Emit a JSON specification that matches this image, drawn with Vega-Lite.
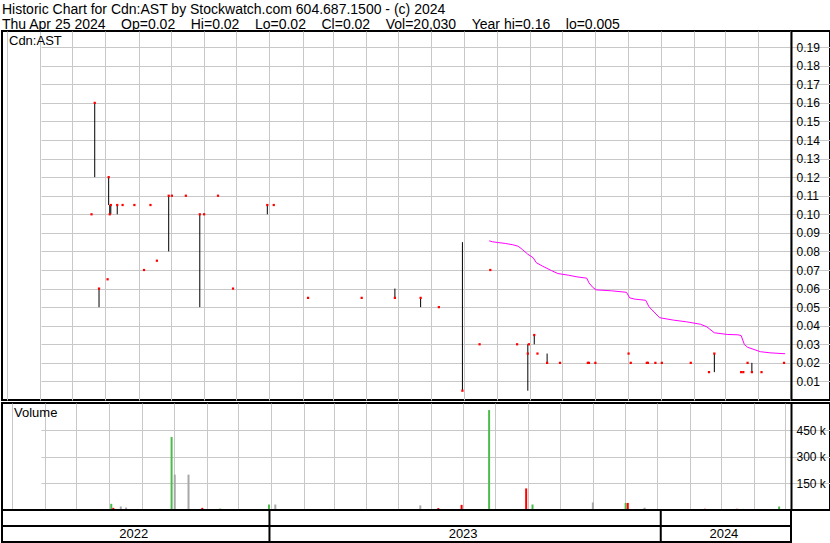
{
  "$schema": "https://vega.github.io/schema/vega-lite/v6.json",
  "background": "white",
  "padding": {"left": 0, "top": 3, "right": 0, "bottom": 0},
  "bounds": "flush",
  "title": {
    "text": [
      "Historic Chart for Cdn:AST by Stockwatch.com 604.687.1500 - (c) 2024",
      "Thu Apr 25 2024\u00a0\u00a0\u00a0\u00a0Op=0.02\u00a0\u00a0\u00a0\u00a0Hi=0.02\u00a0\u00a0\u00a0\u00a0Lo=0.02\u00a0\u00a0\u00a0\u00a0Cl=0.02\u00a0\u00a0\u00a0\u00a0Vol=20,030\u00a0\u00a0\u00a0\u00a0Year hi=0.16\u00a0\u00a0\u00a0\u00a0lo=0.005"
    ],
    "anchor": "start",
    "font": "Liberation Sans",
    "fontSize": 14,
    "fontWeight": "normal",
    "color": "black",
    "lineHeight": 15,
    "offset": -2,
    "dx": 2
  },
  "config": {
    "font": "Liberation Sans",
    "view": {"stroke": "black", "strokeWidth": 2},
    "axis": {"gridColor": "#c8c8c8", "gridWidth": 1, "gridOpacity": 1}
  },
  "datasets": {
    "px": [
      {"d": "2022-07-19", "h": 0.10, "l": 0.10, "c": 0.10, "v": 5000, "dir": "up"},
      {"d": "2022-07-22", "h": 0.16, "l": 0.12, "c": 0.16, "v": 5000, "dir": "up"},
      {"d": "2022-07-26", "h": 0.06, "l": 0.05, "c": 0.06, "v": 5000, "dir": "down"},
      {"d": "2022-08-03", "h": 0.065, "l": 0.065, "c": 0.065, "v": 35000, "dir": "up"},
      {"d": "2022-08-04", "h": 0.12, "l": 0.105, "c": 0.12, "v": 8000, "dir": "up"},
      {"d": "2022-08-05", "h": 0.105, "l": 0.10, "c": 0.10, "v": 12000, "dir": "down"},
      {"d": "2022-08-06", "h": 0.105, "l": 0.10, "c": 0.105, "v": 5000, "dir": "up"},
      {"d": "2022-08-12", "h": 0.105, "l": 0.10, "c": 0.105, "v": 20000, "dir": "flat"},
      {"d": "2022-08-17", "h": 0.105, "l": 0.105, "c": 0.105, "v": 14000, "dir": "flat"},
      {"d": "2022-08-28", "h": 0.105, "l": 0.105, "c": 0.105, "v": 4000, "dir": "flat"},
      {"d": "2022-09-06", "h": 0.07, "l": 0.07, "c": 0.07, "v": 5000, "dir": "down"},
      {"d": "2022-09-12", "h": 0.105, "l": 0.105, "c": 0.105, "v": 5000, "dir": "up"},
      {"d": "2022-09-18", "h": 0.075, "l": 0.075, "c": 0.075, "v": 5000, "dir": "down"},
      {"d": "2022-09-29", "h": 0.11, "l": 0.08, "c": 0.11, "v": 413000, "dir": "up"},
      {"d": "2022-10-02", "h": 0.11, "l": 0.11, "c": 0.11, "v": 200000, "dir": "flat"},
      {"d": "2022-10-15", "h": 0.11, "l": 0.11, "c": 0.11, "v": 200000, "dir": "flat"},
      {"d": "2022-10-28", "h": 0.10, "l": 0.05, "c": 0.10, "v": 12000, "dir": "down"},
      {"d": "2022-11-01", "h": 0.10, "l": 0.10, "c": 0.10, "v": 3000, "dir": "flat"},
      {"d": "2022-11-14", "h": 0.11, "l": 0.11, "c": 0.11, "v": 8000, "dir": "up"},
      {"d": "2022-11-28", "h": 0.06, "l": 0.06, "c": 0.06, "v": 5000, "dir": "down"},
      {"d": "2022-12-30", "h": 0.105, "l": 0.10, "c": 0.105, "v": 31000, "dir": "up"},
      {"d": "2023-01-05", "h": 0.105, "l": 0.105, "c": 0.105, "v": 31000, "dir": "flat"},
      {"d": "2023-02-06", "h": 0.055, "l": 0.055, "c": 0.055, "v": 4000, "dir": "down"},
      {"d": "2023-03-28", "h": 0.055, "l": 0.055, "c": 0.055, "v": 4000, "dir": "flat"},
      {"d": "2023-04-28", "h": 0.06, "l": 0.055, "c": 0.055, "v": 4000, "dir": "flat"},
      {"d": "2023-05-22", "h": 0.055, "l": 0.05, "c": 0.055, "v": 26000, "dir": "flat"},
      {"d": "2023-06-08", "h": 0.05, "l": 0.05, "c": 0.05, "v": 11000, "dir": "down"},
      {"d": "2023-06-30", "h": 0.085, "l": 0.005, "c": 0.005, "v": 29000, "dir": "down"},
      {"d": "2023-07-16", "h": 0.03, "l": 0.03, "c": 0.03, "v": 4000, "dir": "up"},
      {"d": "2023-07-26", "h": 0.07, "l": 0.07, "c": 0.07, "v": 565000, "dir": "up"},
      {"d": "2023-08-20", "h": 0.03, "l": 0.03, "c": 0.03, "v": 4000, "dir": "down"},
      {"d": "2023-08-30", "h": 0.03, "l": 0.005, "c": 0.025, "v": 122000, "dir": "down"},
      {"d": "2023-08-31", "h": 0.03, "l": 0.03, "c": 0.03, "v": 4000, "dir": "up"},
      {"d": "2023-09-05", "h": 0.035, "l": 0.03, "c": 0.035, "v": 31000, "dir": "up"},
      {"d": "2023-09-08", "h": 0.025, "l": 0.025, "c": 0.025, "v": 5000, "dir": "down"},
      {"d": "2023-09-17", "h": 0.025, "l": 0.02, "c": 0.02, "v": 5000, "dir": "down"},
      {"d": "2023-09-29", "h": 0.02, "l": 0.02, "c": 0.02, "v": 3000, "dir": "flat"},
      {"d": "2023-10-25", "h": 0.02, "l": 0.02, "c": 0.02, "v": 5000, "dir": "flat"},
      {"d": "2023-10-26", "h": 0.02, "l": 0.02, "c": 0.02, "v": 3000, "dir": "flat"},
      {"d": "2023-11-01", "h": 0.02, "l": 0.02, "c": 0.02, "v": 43000, "dir": "flat"},
      {"d": "2023-12-02", "h": 0.025, "l": 0.025, "c": 0.025, "v": 40000, "dir": "up"},
      {"d": "2023-12-04", "h": 0.02, "l": 0.02, "c": 0.02, "v": 40000, "dir": "down"},
      {"d": "2023-12-19", "h": 0.02, "l": 0.02, "c": 0.02, "v": 8000, "dir": "flat"},
      {"d": "2023-12-20", "h": 0.02, "l": 0.02, "c": 0.02, "v": 13000, "dir": "flat"},
      {"d": "2023-12-27", "h": 0.02, "l": 0.02, "c": 0.02, "v": 4000, "dir": "flat"},
      {"d": "2024-01-02", "h": 0.02, "l": 0.02, "c": 0.02, "v": 3000, "dir": "flat"},
      {"d": "2024-01-29", "h": 0.02, "l": 0.02, "c": 0.02, "v": 4000, "dir": "flat"},
      {"d": "2024-02-15", "h": 0.015, "l": 0.015, "c": 0.015, "v": 7000, "dir": "down"},
      {"d": "2024-02-20", "h": 0.025, "l": 0.015, "c": 0.025, "v": 4000, "dir": "up"},
      {"d": "2024-03-16", "h": 0.015, "l": 0.015, "c": 0.015, "v": 7000, "dir": "down"},
      {"d": "2024-03-18", "h": 0.015, "l": 0.015, "c": 0.015, "v": 6000, "dir": "flat"},
      {"d": "2024-03-22", "h": 0.02, "l": 0.02, "c": 0.02, "v": 6000, "dir": "up"},
      {"d": "2024-03-26", "h": 0.02, "l": 0.015, "c": 0.015, "v": 4000, "dir": "down"},
      {"d": "2024-04-04", "h": 0.015, "l": 0.015, "c": 0.015, "v": 5000, "dir": "flat"},
      {"d": "2024-04-25", "h": 0.02, "l": 0.02, "c": 0.02, "v": 20030, "dir": "up"}
    ],
    "ma": [
      {"d": "2023-07-25", "m": 0.0857},
      {"d": "2023-07-28", "m": 0.0852},
      {"d": "2023-08-02", "m": 0.0848},
      {"d": "2023-08-09", "m": 0.0843},
      {"d": "2023-08-16", "m": 0.0836},
      {"d": "2023-08-21", "m": 0.0828},
      {"d": "2023-08-25", "m": 0.081},
      {"d": "2023-08-30", "m": 0.0785},
      {"d": "2023-09-04", "m": 0.0766},
      {"d": "2023-09-07", "m": 0.0739},
      {"d": "2023-09-13", "m": 0.072},
      {"d": "2023-09-21", "m": 0.0697},
      {"d": "2023-09-27", "m": 0.0681},
      {"d": "2023-10-07", "m": 0.0672},
      {"d": "2023-10-15", "m": 0.0663},
      {"d": "2023-10-24", "m": 0.0656},
      {"d": "2023-10-26", "m": 0.0631},
      {"d": "2023-10-30", "m": 0.0604},
      {"d": "2023-11-02", "m": 0.0593},
      {"d": "2023-11-16", "m": 0.0588},
      {"d": "2023-11-30", "m": 0.058},
      {"d": "2023-12-03", "m": 0.055},
      {"d": "2023-12-08", "m": 0.0543},
      {"d": "2023-12-18", "m": 0.0537},
      {"d": "2023-12-21", "m": 0.0502},
      {"d": "2023-12-31", "m": 0.0443},
      {"d": "2024-01-13", "m": 0.043},
      {"d": "2024-01-25", "m": 0.0421},
      {"d": "2024-02-07", "m": 0.0408},
      {"d": "2024-02-13", "m": 0.0394},
      {"d": "2024-02-20", "m": 0.0362},
      {"d": "2024-03-03", "m": 0.0353},
      {"d": "2024-03-13", "m": 0.0351},
      {"d": "2024-03-16", "m": 0.0347},
      {"d": "2024-03-19", "m": 0.0299},
      {"d": "2024-03-22", "m": 0.0284},
      {"d": "2024-03-28", "m": 0.0272},
      {"d": "2024-04-03", "m": 0.026},
      {"d": "2024-04-12", "m": 0.0254},
      {"d": "2024-04-26", "m": 0.0249}
    ],
    "years": [
      {"year": "2022", "start": "2022-04-26T12:00:00Z", "end": "2023-01-01T00:00:00Z"},
      {"year": "2023", "start": "2023-01-01T00:00:00Z", "end": "2024-01-01T00:00:00Z"},
      {"year": "2024", "start": "2024-01-01T00:00:00Z", "end": "2024-05-01T12:00:00Z"}
    ]
  },
  "spacing": 3,
  "vconcat": [
    {
      "width": 828,
      "height": 369,
      "data": {"name": "px"},
      "layer": [
        {
          "mark": {"type": "rule", "color": "black", "strokeWidth": 1},
          "encoding": {
            "x": {
              "field": "d", "type": "temporal",
              "scale": {"type": "utc", "domain": [{"year": 2022, "month": 4, "date": 26, "hours": 12, "utc": true}, {"year": 2024, "month": 5, "date": 1, "hours": 12, "utc": true}], "range": [0, 789]},
              "axis": {"orient": "bottom", "labels": false, "ticks": false, "domain": false, "title": null, "grid": true, "tickCount": {"interval": "month", "step": 1}}
            },
            "y": {
              "field": "l", "type": "quantitative",
              "scale": {"domain": [0, 0.1987], "nice": false, "zero": false},
              "axis": {"orient": "right", "offset": -39, "values": [0.01,0.02,0.03,0.04,0.05,0.06,0.07,0.08,0.09,0.10,0.11,0.12,0.13,0.14,0.15,0.16,0.17,0.18,0.19], "tickCount": 19, "format": ".2f", "labelOverlap": false, "labelFontSize": 12, "labelFont": "Liberation Sans", "labelColor": "black", "labelPadding": 5, "ticks": false, "domain": true, "domainColor": "black", "domainWidth": 2, "title": null, "grid": true}
            },
            "y2": {"field": "h"}
          }
        },
        {
          "mark": {"type": "point", "shape": "square", "filled": true, "size": 5, "color": "#ff0000", "opacity": 1},
          "encoding": {
            "x": {"field": "d", "type": "temporal"},
            "y": {"field": "c", "type": "quantitative"}
          }
        },
        {
          "data": {"name": "ma"},
          "mark": {"type": "line", "color": "#ff00ff", "strokeWidth": 1},
          "encoding": {
            "x": {"field": "d", "type": "temporal"},
            "y": {"field": "m", "type": "quantitative"}
          }
        },
        {
          "data": {"values": [{}]},
          "mark": {"type": "text", "align": "left", "baseline": "alphabetic", "dx": 7, "dy": 14, "fontSize": 13, "font": "Liberation Sans", "color": "black"},
          "encoding": {
            "x": {"datum": {"year": 2022, "month": 4, "date": 26, "hours": 12, "utc": true}, "type": "temporal"},
            "y": {"datum": 0.1987, "type": "quantitative"},
            "text": {"value": "Cdn:AST"}
          }
        }
      ]
    },
    {
      "spacing": 0,
      "bounds": "flush",
      "vconcat": [
        {
          "width": 828,
          "height": 107,
          "data": {"name": "px"},
          "layer": [
            {
              "mark": {"type": "bar", "width": 2},
              "encoding": {
                "x": {
                  "field": "d", "type": "temporal",
                  "scale": {"type": "utc", "domain": [{"year": 2022, "month": 4, "date": 26, "hours": 12, "utc": true}, {"year": 2024, "month": 5, "date": 1, "hours": 12, "utc": true}], "range": [0, 789]},
                  "axis": {"orient": "bottom", "labels": false, "ticks": false, "domain": false, "title": null, "grid": true, "tickCount": {"interval": "month", "step": 1}}
                },
                "y": {
                  "field": "v", "type": "quantitative",
                  "scale": {"domain": [0, 605000], "nice": false},
                  "axis": {"orient": "right", "offset": -39, "values": [150000, 300000, 450000], "tickCount": 3, "labelExpr": "format(datum.value/1000, 'd') + ' k'", "labelOverlap": false, "labelFontSize": 12, "labelFont": "Liberation Sans", "labelColor": "black", "labelPadding": 5, "ticks": false, "domain": true, "domainColor": "black", "domainWidth": 2, "title": null, "grid": true}
                },
                "color": {
                  "field": "dir", "type": "nominal",
                  "scale": {"domain": ["up", "down", "flat"], "range": ["#4cbb4c", "#ff0000", "#a8a8a8"]},
                  "legend": null
                }
              }
            },
            {
              "data": {"values": [{}]},
              "mark": {"type": "text", "align": "left", "baseline": "alphabetic", "dx": 7, "dy": 14, "fontSize": 13, "font": "Liberation Sans", "color": "black"},
              "encoding": {
                "x": {"datum": {"year": 2022, "month": 4, "date": 26, "hours": 12, "utc": true}, "type": "temporal"},
                "y": {"datum": 605000, "type": "quantitative"},
                "text": {"value": "Volume"}
              }
            }
          ]
        },
        {
          "width": 789,
          "height": 32,
          "layer": [
            {
              "data": {"name": "years"},
              "transform": [{"filter": "datum.year != '2022'"}],
              "mark": {"type": "rule", "color": "black", "strokeWidth": 2},
              "encoding": {
                "x": {"field": "start", "type": "temporal", "scale": {"type": "utc", "domain": [{"year": 2022, "month": 4, "date": 26, "hours": 12, "utc": true}, {"year": 2024, "month": 5, "date": 1, "hours": 12, "utc": true}], "range": [0, 789]}, "axis": null}
              }
            },
            {
              "data": {"values": [{}]},
              "mark": {"type": "rule", "color": "black", "strokeWidth": 2},
              "encoding": {
                "y": {"datum": 1, "type": "quantitative", "scale": {"domain": [0, 2], "nice": false}, "axis": null}
              }
            },
            {
              "data": {"name": "years"},
              "transform": [{"calculate": "(toDate(datum.start) + toDate(datum.end)) / 2", "as": "mid"}],
              "mark": {"type": "text", "fontSize": 13, "font": "Liberation Sans", "color": "black", "baseline": "middle", "dx": -2},
              "encoding": {
                "x": {"field": "mid", "type": "temporal"},
                "y": {"datum": 0.5, "type": "quantitative"},
                "text": {"field": "year"}
              }
            }
          ]
        }
      ]
    }
  ]
}
